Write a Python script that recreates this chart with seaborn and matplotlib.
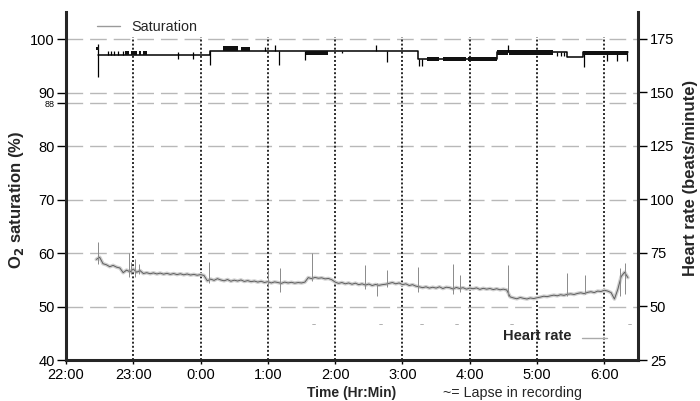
import numpy as np
import pandas as pd
import matplotlib
matplotlib.use("Agg")
import matplotlib.pyplot as plt
from matplotlib.lines import Line2D
import seaborn as sns

sns.set_style("ticks")
plt.rcParams["font.family"] = ["Liberation Sans", "DejaVu Sans"]

# ---------------- data (hours after 22:00) ----------------
hour_ticks = [0, 1, 2, 3, 4, 5, 6, 7, 8]
hour_labels = ["22:00", "23:00", "0:00", "1:00", "2:00", "3:00", "4:00", "5:00", "6:00"]
sat_ticks = [40, 50, 60, 70, 80, 90, 100]
sat_grid = [50, 60, 70, 80, 88, 90, 100]
hr_ticks = [25, 50, 75, 100, 125, 150, 175]

# O2 saturation: stepped level trace
sat_level_hours = [0.47, 2.14, 5.23, 6.40, 7.44, 7.68, 8.35]
sat_level_pct = [97.0, 97.85, 96.3, 97.55, 96.6, 97.55, 97.55]

# O2 saturation: short vertical excursions
sat_spike_hours = [0.47, 0.62, 0.67, 0.72, 0.78, 0.84, 1.66, 1.89, 2.14, 2.95, 3.10,
                   3.17, 3.55, 4.10, 4.60, 4.77, 5.25, 5.29, 6.57, 7.30, 7.35, 7.40,
                   7.70, 8.04, 8.19, 8.34]
sat_spike_low = [92.9, 97.0, 97.0, 97.0, 97.0, 97.0, 96.3, 96.3, 95.2, 97.85, 97.85,
                 95.1, 96.0, 97.4, 97.85, 95.7, 95.0, 95.0, 97.55, 96.8, 96.8, 96.8,
                 94.8, 95.8, 95.8, 95.8]
sat_spike_high = [99.0, 97.7, 97.7, 97.7, 97.7, 97.7, 97.6, 97.6, 97.85, 98.5, 98.8,
                  97.85, 97.85, 97.85, 98.8, 97.85, 96.3, 96.3, 98.8, 97.6, 97.6, 97.6,
                  97.55, 97.55, 97.55, 97.55]

# O2 saturation: dense (blackened) stretches
sat_block_start = [0.45, 0.88, 0.97, 1.08, 1.15, 2.33, 2.60, 3.56, 5.36, 5.60, 5.98, 6.40, 6.59, 7.68]
sat_block_end = [0.49, 0.93, 1.05, 1.12, 1.21, 2.55, 2.73, 3.90, 5.55, 5.95, 6.40, 6.57, 7.24, 8.35]
sat_block_low = [97.9, 97.0, 97.0, 97.0, 97.0, 97.85, 97.85, 97.0, 95.8, 95.8, 95.8, 97.1, 97.1, 97.0]
sat_block_high = [98.6, 97.7, 97.8, 97.8, 97.7, 98.7, 98.6, 97.85, 96.7, 96.7, 96.7, 97.9, 97.9, 97.8]

# Heart rate (beats/minute), one reading every 3 minutes from 22:27
hr_start_hour = 0.45
hr_step_hour = 0.05
hr_bpm = [
    72, 73, 70, 69.5, 68.6, 69.2, 68.4, 68.0,
    65.8, 67.0, 66.2, 67.5, 66.0, 66.8,
    65.4, 65.8, 65.3, 65.7, 65.2, 65.6, 65.1, 65.5, 65.0, 65.4, 64.9, 65.3, 64.8, 65.2, 64.7, 65.0, 64.6, 64.9,
    64.5, 62.0, 62.8, 62.2, 63.0, 62.4, 62.0, 62.6, 61.8, 62.3, 61.9, 62.4, 61.7, 62.1, 61.6, 61.9, 61.4, 61.8,
    61.2, 61.6, 61.0, 61.5, 61.2, 60.8, 61.4, 61.0, 61.3, 60.9, 61.2, 61.0, 61.4,
    63.5, 63.0, 63.6, 63.2, 63.4, 62.9, 63.1, 62.5,
    61.4, 60.8, 61.2, 60.6, 61.0, 60.4, 60.9, 60.2, 60.6, 60.0, 60.5, 59.8, 60.3, 59.9, 60.2,
    60.4, 60.8, 61.2, 60.6, 61.0, 60.2, 60.6, 59.8, 60.2, 59.5, 59.2, 58.8, 59.2, 58.6,
    59.0, 58.6, 59.2, 58.4, 59.0, 58.8, 58.2, 58.9, 58.4, 58.8, 58.1, 58.6, 58.3, 58.7, 58.0, 58.5,
    58.1, 58.4, 57.9, 58.3, 57.8, 58.1, 57.7,
    54.5, 54.0, 53.6, 54.2, 53.8, 53.5, 54.0, 53.7, 54.1,
    54.4, 54.8, 54.6, 55.0, 55.3, 55.0, 55.5, 55.2, 55.7, 55.9, 55.6, 56.1, 56.4, 56.0, 56.6, 56.9,
    56.5, 57.2, 57.0, 57.6,
    57.2, 56.5, 53.5, 58.0, 64.0, 66.0, 63.5,
]
hr_hours = [round(hr_start_hour + i * hr_step_hour, 2) for i in range(len(hr_bpm))]

# Heart rate: brief artefact spikes
hr_spike_hours = [0.47, 0.93, 0.97, 1.02, 1.08, 2.13, 3.00, 3.18, 3.65, 4.44, 4.62, 4.77,
                  5.23, 5.75, 5.85, 6.57, 7.44, 7.71, 8.23, 8.30]
hr_spike_low = [70, 64, 65, 64, 65, 61, 59, 57, 62, 58, 55, 59, 57, 56, 57, 55, 55, 56, 55, 56]
hr_spike_high = [80, 75, 71, 72, 70, 70.7, 67, 68, 75, 69.4, 61, 67, 68.4, 70, 64.7, 69.4,
                 65.6, 64.7, 68, 70.3]

# Lapses in recording
lapse_hours = [3.68, 4.67, 5.29, 5.81, 6.63, 8.38]
lapse_pct = [46.4, 46.4, 46.4, 46.4, 46.4, 46.4]

# ---------------- figure ----------------
fig = plt.figure(figsize=(7.0, 4.01), dpi=100)
ax = fig.add_axes([66 / 700, 41 / 401, 572 / 700, 348 / 401])
ax2 = ax.twinx()

ax.set_xlim(0, 8.5)
ax.set_ylim(40, 105.05)
ax2.set_ylim(25, 187.6)

# grid: dashed horizontals, dotted hour lines
for g in sat_grid:
    ax.axhline(g, color="#b8b8b8", lw=1.0, dashes=(12, 5), zorder=0)
ax.vlines(hour_ticks[1:], 40, 100.4, color="#2a2a2a", lw=1.4,
          linestyle=(0, (1, 1.1)), zorder=1)

# saturation
sns.lineplot(x=sat_level_hours, y=sat_level_pct, drawstyle="steps-post", estimator=None,
             sort=False, color="black", lw=1.1, ax=ax, zorder=3)
ax.vlines(sat_spike_hours, sat_spike_low, sat_spike_high, color="black", lw=0.9, zorder=3)
ax.bar(sat_block_start, np.subtract(sat_block_high, sat_block_low),
       width=np.subtract(sat_block_end, sat_block_start), bottom=sat_block_low,
       align="edge", color="#111111", edgecolor="none", zorder=3)

# lapse markers
for lx, ly in zip(lapse_hours, lapse_pct):
    ax.text(lx, ly, "~", fontsize=5, color="#666666", ha="center", va="center")

# heart rate: fuzzy light trace with darker core
sns.lineplot(x=hr_hours, y=hr_bpm, estimator=None, sort=False, color="#cfcfcf",
             lw=2.6, ax=ax2, zorder=2)
sns.lineplot(x=hr_hours, y=hr_bpm, estimator=None, sort=False, color="#5e5e5e",
             lw=0.7, ax=ax2, zorder=3)
ax2.vlines(hr_spike_hours, hr_spike_low, hr_spike_high, color="#8a8a8a", lw=0.7, zorder=3)

# axes styling
for s in ["top", "right"]:
    ax.spines[s].set_visible(False)
for s in ["top", "left", "bottom"]:
    ax2.spines[s].set_visible(False)
ax.spines["left"].set_linewidth(2.2)
ax.spines["bottom"].set_linewidth(2.2)
ax2.spines["right"].set_linewidth(2.2)

ax.set_xticks(hour_ticks)
ax.set_xticklabels(hour_labels)
ax.set_yticks(sat_ticks + [88])
ax.set_yticklabels([str(v) for v in sat_ticks] + ["88"])
ax2.set_yticks(hr_ticks)

ax.tick_params(axis="y", direction="out", length=6.5, width=1, labelsize=10.5, pad=1.5, colors="black")
ax.tick_params(axis="x", direction="out", length=3, width=1, labelsize=10.5, pad=3, colors="black")
ax2.tick_params(axis="y", direction="out", length=6.5, width=1, labelsize=10.5, pad=2, colors="black")
for lbl in ax.get_yticklabels():
    if lbl.get_text() == "88":
        lbl.set_fontsize(6.5)

ax.set_xlabel("")
ax.set_ylabel("")
ax2.set_ylabel("")

# axis titles
fig.text(17 / 700, 1 - 200 / 401, r"O$_\mathbf{2}$ saturation (%)", rotation=90,
         ha="center", va="center", fontsize=12, fontweight="bold")
fig.text(690 / 700, 1 - 178 / 401, "Heart rate (beats/minute)", rotation=90,
         ha="center", va="center", fontsize=12, fontweight="bold")
fig.text(352 / 700, 1 - 393 / 401, "Time (Hr:Min)", ha="center", va="center",
         fontsize=10, fontweight="bold")
fig.text(443 / 700, 1 - 393 / 401, "~= Lapse in recording", ha="left", va="center", fontsize=10.3)

# legends
leg = ax.legend(handles=[Line2D([], [], color="#9a9a9a", lw=1.0)], labels=["Saturation"],
                loc="center left", bbox_to_anchor=(0.054, 0.957), frameon=False,
                handlelength=1.6, handletextpad=0.8, borderaxespad=0, borderpad=0,
                fontsize=10.4)
ax.text(0.823, 0.068, "Heart rate", transform=ax.transAxes, ha="center", va="center",
        fontsize=10.5, fontweight="bold")
ax.add_line(Line2D([0.902, 0.946], [0.064, 0.064], transform=ax.transAxes,
                   color="#aaaaaa", lw=1.0))

fig.savefig("out.png", dpi=100)
